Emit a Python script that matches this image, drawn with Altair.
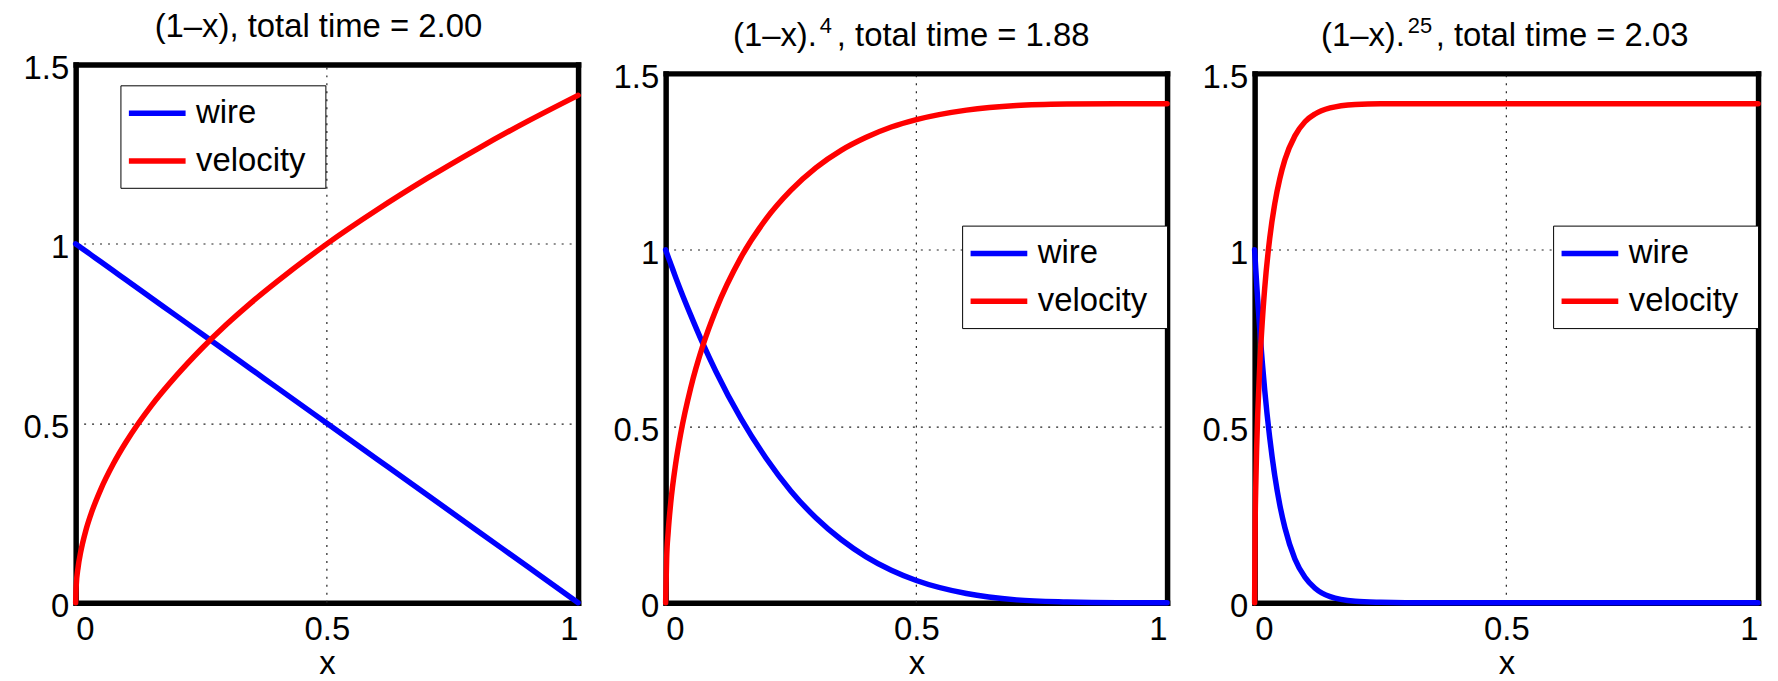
import altair as alt
import pandas as pd

FONT = "Liberation Sans"
FS = 33

series_names = ["wire", "velocity"]
series_colors = ["#0000ff", "#ff0000"]

# titles: main part, superscript exponent, remainder
title_main = ["(1–x), total time = 2.00", "(1–x).", "(1–x)."]
title_sup = ["", "4", "25"]
title_rest = ["", ", total time = 1.88", ", total time = 2.03"]

x_ticks = [0, 0.5, 1]
y_ticks = [0, 0.5, 1, 1.5]
x_grid = [0.5]

# panel 1: (1-x)
x1 = [0, 0.001, 0.005, 0.01, 0.02, 0.03, 0.05, 0.075, 0.1, 0.125, 0.15, 0.2, 0.25,
      0.3, 0.35, 0.4, 0.5, 0.6, 0.7, 0.8, 0.9, 1.0]
wire1 = [1.0, 0.999, 0.995, 0.99, 0.98, 0.97, 0.95, 0.925, 0.9, 0.875, 0.85, 0.8, 0.75,
         0.7, 0.65, 0.6, 0.5, 0.4, 0.3, 0.2, 0.1, 0.0]
vel1 = [0.0, 0.045, 0.1, 0.141, 0.2, 0.245, 0.316, 0.387, 0.447, 0.5, 0.548, 0.632, 0.707,
        0.775, 0.837, 0.894, 1.0, 1.095, 1.183, 1.265, 1.342, 1.414]

# panel 2: (1-x).^4
x2 = [0, 0.002, 0.005, 0.01, 0.02, 0.03, 0.05, 0.075, 0.1, 0.15, 0.2, 0.25, 0.3,
      0.35, 0.4, 0.45, 0.5, 0.6, 0.7, 0.8, 0.9, 1.0]
wire2 = [1.0, 0.992, 0.980, 0.961, 0.922, 0.885, 0.815, 0.732, 0.656, 0.522, 0.410, 0.316,
         0.240, 0.179, 0.130, 0.092, 0.063, 0.026, 0.008, 0.002, 0.0, 0.0]
vel2 = [0.0, 0.126, 0.199, 0.281, 0.394, 0.479, 0.609, 0.732, 0.829, 0.978, 1.087, 1.169,
        1.233, 1.282, 1.319, 1.348, 1.369, 1.396, 1.409, 1.413, 1.414, 1.414]

# panel 3: (1-x).^25
x3 = [0, 0.001, 0.002, 0.004, 0.006, 0.01, 0.015, 0.02, 0.03, 0.04, 0.05, 0.06, 0.08,
      0.1, 0.12, 0.15, 0.2, 0.25, 0.3, 0.4, 0.6, 0.8, 1.0]
wire3 = [1.0, 0.975, 0.951, 0.905, 0.860, 0.778, 0.685, 0.603, 0.467, 0.360, 0.277, 0.213,
         0.124, 0.072, 0.041, 0.017, 0.004, 0.001, 0.0, 0.0, 0.0, 0.0, 0.0]
vel3 = [0.0, 0.222, 0.313, 0.437, 0.529, 0.667, 0.793, 0.891, 1.033, 1.131, 1.202, 1.255,
        1.323, 1.363, 1.385, 1.402, 1.412, 1.414, 1.414, 1.414, 1.414, 1.414, 1.414]

H = 541
GRID_COLOR = "#222222"
GRID_DASH = [2, 6]
LW = 5.5
PAD_LABEL = "\u00a0\u200b"


def text_layer(txt, px, py, align, size):
    return alt.Chart(pd.DataFrame({"t": [txt]})).mark_text(
        font=FONT, fontSize=size, color="black", align=align, baseline="alphabetic"
    ).encode(x=alt.value(px), y=alt.value(py), text="t:N")


def panel(i, xs, wire, vel, width, inset, lx, ly, tpos):
    n = len(xs)
    df = pd.DataFrame({
        "x": xs + xs,
        "value": wire + vel,
        "series": [series_names[0]] * n + [series_names[1]] * n,
    })
    gdf = pd.DataFrame({"gx": x_grid, "g0": [y_ticks[0]] * len(x_grid),
                        "g1": [y_ticks[-1]] * len(x_grid)})
    xsc = alt.Scale(domain=[0, 1], nice=False, zero=False)
    ysc = alt.Scale(domain=[0, 1.5], nice=False, zero=False, range=[H, inset])

    grid = alt.Chart(gdf).mark_rule(
        color=GRID_COLOR, strokeWidth=1.2, strokeDash=GRID_DASH
    ).encode(
        x=alt.X("gx:Q", scale=xsc,
                axis=alt.Axis(orient="top", labels=False, ticks=False, grid=False,
                              domain=True, title=None, offset=-inset)),
        y=alt.Y("g0:Q", scale=ysc,
                axis=alt.Axis(orient="right", labels=False, ticks=False, grid=False,
                              domain=True, title=None)),
        y2="g1:Q",
    )

    lines = alt.Chart(df).mark_line(
        strokeWidth=LW, strokeCap="round", interpolate="monotone"
    ).encode(
        x=alt.X("x:Q", scale=xsc,
                axis=alt.Axis(orient="bottom", values=x_ticks, format="~g", grid=False,
                              ticks=False, title="x", labelPadding=11,
                              titleBaseline="alphabetic", titleY=71)),
        y=alt.Y("value:Q", scale=ysc,
                axis=alt.Axis(orient="left", values=y_ticks, format="~g", grid=True,
                              gridColor=GRID_COLOR, gridDash=GRID_DASH, gridWidth=1.2,
                              ticks=False, title=None, labelPadding=7, labelOffset=4)),
        color=alt.Color(
            "series:N",
            scale=alt.Scale(domain=series_names, range=series_colors),
            legend=alt.Legend(
                title=None, orient="none", legendX=lx, legendY=ly,
                fillColor="white", strokeColor="black", padding=10,
                symbolType="M-1.9,0L1.9,0", symbolSize=900, symbolStrokeWidth=LW,
                labelFont=FONT, labelFontSize=FS, labelColor="black",
                rowPadding=13, labelOffset=21, symbolOffset=9,
                labelExpr="datum.label + '" + PAD_LABEL + "'",
            ),
        ),
    )

    layers = [grid, lines]
    if title_sup[i]:
        main_right, sup_left, rest_left = tpos
        layers.append(text_layer(title_main[i], main_right, -19, "right", FS))
        layers.append(text_layer(title_sup[i], sup_left, -32, "left", 22))
        layers.append(text_layer(title_rest[i], rest_left, -19, "left", FS))
    else:
        layers.append(text_layer(title_main[i], tpos[0], -28, "center", FS))

    return alt.layer(*layers).properties(width=width, height=H)


p1 = panel(0, x1, wire1, vel1, 505, 0, 45, 21, (244,))
p2 = panel(1, x2, wire2, vel2, 504, 9, 298, 162, (152, 155, 172))
p3 = panel(2, x3, wire3, vel3, 506, 9, 300, 162, (151, 154, 182))

chart = alt.hconcat(p1, p2, p3, spacing=88, bounds="flush").resolve_scale(
    x="independent", y="independent", color="independent"
).resolve_legend(color="independent").configure_view(
    stroke="transparent"
).configure_axis(
    domainColor="black", domainWidth=5.5, domainCap="square", tickSize=0,
    labelFont=FONT, labelFontSize=FS, labelColor="black",
    titleFont=FONT, titleFontSize=FS, titleFontWeight="normal", titleColor="black",
).properties(
    padding={"left": 14, "top": 0, "right": 0, "bottom": 0},
    background="white",
)

chart.save("out.html", embed_options={"renderer": "svg", "actions": False})
